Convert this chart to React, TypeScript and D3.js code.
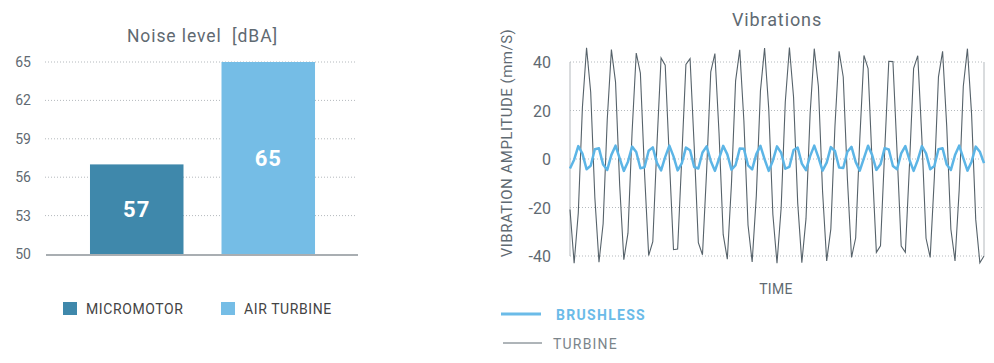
import React from "react";
import { scaleBand, scaleLinear, line } from "d3";

// left chart: noise level
const noiseCategories = ["MICROMOTOR", "AIR TURBINE"];
const noiseValues = [57, 65];
const noiseTicks = [50, 53, 56, 59, 62, 65];
const noiseColors = ["#3f88ab", "#75bde6"];

// right chart: vibrations (one sample per time step)
const vibTicks = [-40, -20, 0, 20, 40];
const turbine = [
  -20.8, -43.0, -22.3, 21.4, 45.9, 27.5, -15.9, -42.6, -26.7, 16.4,
  45.1, 31.7, -10.8, -41.5, -30.6, 11.2, 43.7, 35.4, -5.6, -39.8,
  -34.1, 5.9, 41.7, 38.7, -0.2, -37.4, -37.1, 0.5, 39.0, 41.4,
  5.2, -34.5, -39.5, -4.9, 35.9, 43.5, 10.6, -31.1, -41.3, -10.2,
  32.2, 45.0, 15.8, -27.2, -42.5, -15.3, 28.1, 45.8, 20.8, -22.8,
  -43.0, -20.2, 23.5, 46.0, 25.5, -18.1, -42.8, -24.7, 18.7, 45.5,
  29.9, -13.2, -42.0, -28.9, 13.6, 44.4, 33.8, -8.0, -40.6, -32.6,
  8.3, 42.7, 37.3, -2.6, -38.5, -35.8, 2.9, 40.3, 40.2, 2.8,
  -35.9, -38.5, -2.5, 37.4, 42.6, 8.2, -32.7, -40.6, -7.8, 33.9,
  44.4, 13.4, -29.0, -42.0, -13.0, 30.0, 45.5, 18.5, -24.9, -42.8,
  -40.0,
];
const brushless = [
  -3.9, -0.3, 5.3, 2.2, -4.2, -2.8, 4.0, 4.4, -2.3, -4.5,
  1.7, 5.5, 0.3, -4.9, -1.1, 5.1, 2.9, -3.8, -3.4, 3.4,
  4.8, -1.6, -4.7, 0.9, 5.5, 1.1, -4.7, -1.8, 4.7, 3.6,
  -3.3, -3.9, 2.7, 5.2, -0.8, -4.9, 0.1, 5.4, 1.9, -4.4,
  -2.5, 4.3, 4.2, -2.6, -4.3, 2.0, 5.4, -0.1, -4.9, -0.7,
  5.2, 2.6, -4.0, -3.2, 3.7, 4.7, -1.9, -4.6, 1.2, 5.5,
  0.7, -4.8, -1.5, 4.9, 3.3, -3.5, -3.7, 3.0, 5.0, -1.2,
  -4.8, 0.4, 5.5, 1.5, -4.5, -2.2, 4.5, 3.9, -2.9, -4.2,
  2.3, 5.3, -0.4, -4.9, -0.4, 5.3, 2.3, -4.2, -2.9, 4.0,
  4.4, -2.3, -4.5, 1.6, 5.5, 0.4, -4.8, -1.1, 5.1, 3.0,
  -1.7,
];

const FONT = "Roboto, 'DejaVu Sans', sans-serif";
const TEXT = "#5f6a72";
const GRID = "#b4b9bd";

export default function App() {
  // noise chart scales
  const yN = scaleLinear().domain([50, 65]).range([254, 62]);
  const xN = scaleBand()
    .domain(noiseCategories)
    .range([47.5, 357.5])
    .paddingInner(0.289)
    .paddingOuter(0.323);

  // vibration chart scales
  const xV = scaleLinear().domain([0, turbine.length - 1]).range([570, 984]);
  const yV = scaleLinear().domain([-40, 40]).range([256, 62]);
  const vLine = line<number>()
    .x((d, i) => xV(i))
    .y((d) => yV(d));

  return (
    <svg
      width={994}
      height={363}
      style={{ position: "absolute", left: 0, top: 0, background: "#fff" }}
      fontFamily={FONT}
    >
      {/* ---- Noise level ---- */}
      <text x={202.5} y={42} textAnchor="middle" fontSize={17.5} fill={TEXT} letterSpacing={0.9} style={{ whiteSpace: "pre" }}>
        {"Noise level  [dBA]"}
      </text>
      {noiseTicks.map((t) => (
        <g key={t}>
          {t !== 50 && (
            <line x1={45} x2={355} y1={yN(t)} y2={yN(t)} stroke={GRID} strokeDasharray="1,2" />
          )}
          <text x={31} y={yN(t) + 5} textAnchor="end" fontSize={14} fill={TEXT}>
            {t}
          </text>
        </g>
      ))}
      {noiseCategories.map((c, i) => (
        <g key={c}>
          <rect
            x={xN(c)}
            y={yN(noiseValues[i])}
            width={xN.bandwidth()}
            height={yN(50) - yN(noiseValues[i])}
            fill={noiseColors[i]}
          />
          <text
            x={(xN(c) as number) + xN.bandwidth() / 2}
            y={(yN(noiseValues[i]) + yN(50)) / 2 + 8}
            textAnchor="middle"
            fontSize={22}
            fontWeight="bold"
            fill="#fff"
            letterSpacing={1}
          >
            {noiseValues[i]}
          </text>
        </g>
      ))}
      <line x1={46} x2={358} y1={yN(50) + 1} y2={yN(50) + 1} stroke="#a9aeb2" strokeWidth={2} />
      {noiseCategories.map((c, i) => (
        <g key={c} transform={`translate(${[63, 221][i]},302)`}>
          <rect width={14} height={13} fill={noiseColors[i]} />
          <text x={23} y={12} fontSize={14} fill="#444" letterSpacing={0.6}>
            {c}
          </text>
        </g>
      ))}

      {/* ---- Vibrations ---- */}
      <text x={777} y={26} textAnchor="middle" fontSize={18} fill={TEXT} letterSpacing={0.9}>
        Vibrations
      </text>
      {vibTicks.map((t) => (
        <g key={t}>
          <line x1={570} x2={984} y1={yV(t)} y2={yV(t)} stroke={GRID} strokeDasharray="1,2" />
          <text x={551} y={yV(t) + 6} textAnchor="end" fontSize={16} fill={TEXT}>
            {t}
          </text>
        </g>
      ))}
      <line x1={570} x2={570} y1={yV(40)} y2={yV(-40)} stroke={GRID} />
      <line x1={984} x2={984} y1={yV(40)} y2={yV(-40)} stroke={GRID} />
      <text
        transform="translate(512,143) rotate(-90)"
        textAnchor="middle"
        fontSize={15}
        fill={TEXT}
        letterSpacing={0.5}
      >
        VIBRATION AMPLITUDE (mm/S)
      </text>
      <path d={vLine(turbine) || ""} fill="none" stroke="#56626a" strokeWidth={1.1} />
      <path d={vLine(brushless) || ""} fill="none" stroke="#5cb5e6" strokeWidth={2.5} strokeLinejoin="round" />
      <text x={776} y={294} textAnchor="middle" fontSize={14} fill={TEXT} letterSpacing={0.3}>
        TIME
      </text>
      <line x1={501} x2={541} y1={314} y2={314} stroke="#6bbbe8" strokeWidth={3} />
      <text x={556} y={320} fontSize={14} fontWeight="bold" fill="#6bbbe8" letterSpacing={1.3}>
        BRUSHLESS
      </text>
      <line x1={503} x2={542} y1={343} y2={343} stroke="#5f6a72" strokeWidth={1} />
      <text x={553} y={349} fontSize={14} fill="#7b858b" letterSpacing={1.2}>
        TURBINE
      </text>
    </svg>
  );
}
